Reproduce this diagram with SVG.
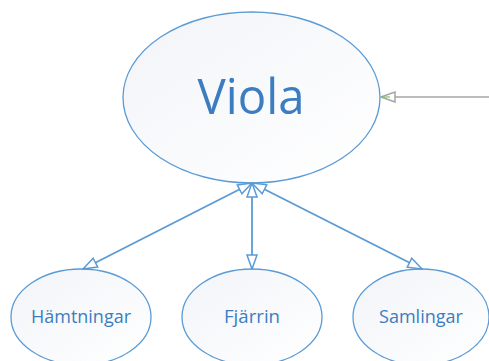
<svg xmlns="http://www.w3.org/2000/svg" width="489" height="361" viewBox="0 0 489 361">
<style>
.node{fill:url(#g);stroke:#5B9BD5;stroke-width:1.3}
.lbl{font-family:"Open Sans","Noto Sans",sans-serif;fill:#3B7DC0;text-anchor:middle}
.con{stroke:#5B9BD5;stroke-width:1.8;fill:none}
</style>
<defs>
<linearGradient id="g" x1="0" y1="0" x2="1" y2="1">
<stop offset="0" stop-color="#F2F4F8"/>
<stop offset="1" stop-color="#FFFFFF"/>
</linearGradient>
<marker id="a" viewBox="0 0 16 12" refX="15" refY="6" markerWidth="16" markerHeight="12" markerUnits="userSpaceOnUse" orient="auto-start-reverse">
<path d="M1,1 L15,6 L1,11 Z" fill="#fff" stroke="#5B9BD5" stroke-width="1.5"/>
</marker>
<marker id="ag" viewBox="0 0 16 12" refX="15" refY="6" markerWidth="16" markerHeight="12" markerUnits="userSpaceOnUse" orient="auto">
<path d="M1,1 L15,6 L1,11 Z" fill="#fff" stroke="#A6A6A6" stroke-width="1.5"/>
<path d="M6,6 L15,6" stroke="#7DC35B" stroke-width="1.2"/>
</marker>
</defs>
<g id="viola">
<ellipse class="node" cx="251.5" cy="97.5" rx="128.5" ry="85.5"/>
<text class="lbl" x="251" y="114" font-size="49" textLength="107" lengthAdjust="spacingAndGlyphs">Viola</text>
</g>
<g id="hamtningar">
<ellipse class="node" cx="81" cy="317" rx="70" ry="48"/>
<text class="lbl" x="81" y="323" font-size="19" textLength="100" lengthAdjust="spacingAndGlyphs">Hämtningar</text>
</g>
<g id="fjarrin">
<ellipse class="node" cx="252" cy="317" rx="70" ry="48"/>
<text class="lbl" x="252" y="323" font-size="19" textLength="56" lengthAdjust="spacingAndGlyphs">Fjärrin</text>
</g>
<g id="samlingar">
<ellipse class="node" cx="421" cy="317" rx="68" ry="48"/>
<text class="lbl" x="421" y="323" font-size="19" textLength="84" lengthAdjust="spacingAndGlyphs">Samlingar</text>
</g>
<g id="connectors">
<line class="con" x1="252" y1="183" x2="83" y2="269" marker-start="url(#a)" marker-end="url(#a)"/>
<line class="con" x1="252" y1="183" x2="252" y2="269" marker-start="url(#a)" marker-end="url(#a)"/>
<line class="con" x1="252" y1="183" x2="422" y2="269" marker-start="url(#a)" marker-end="url(#a)"/>
<line x1="489" y1="97" x2="381" y2="97" stroke="#A6A6A6" stroke-width="1.5" marker-end="url(#ag)"/>
</g>
</svg>
